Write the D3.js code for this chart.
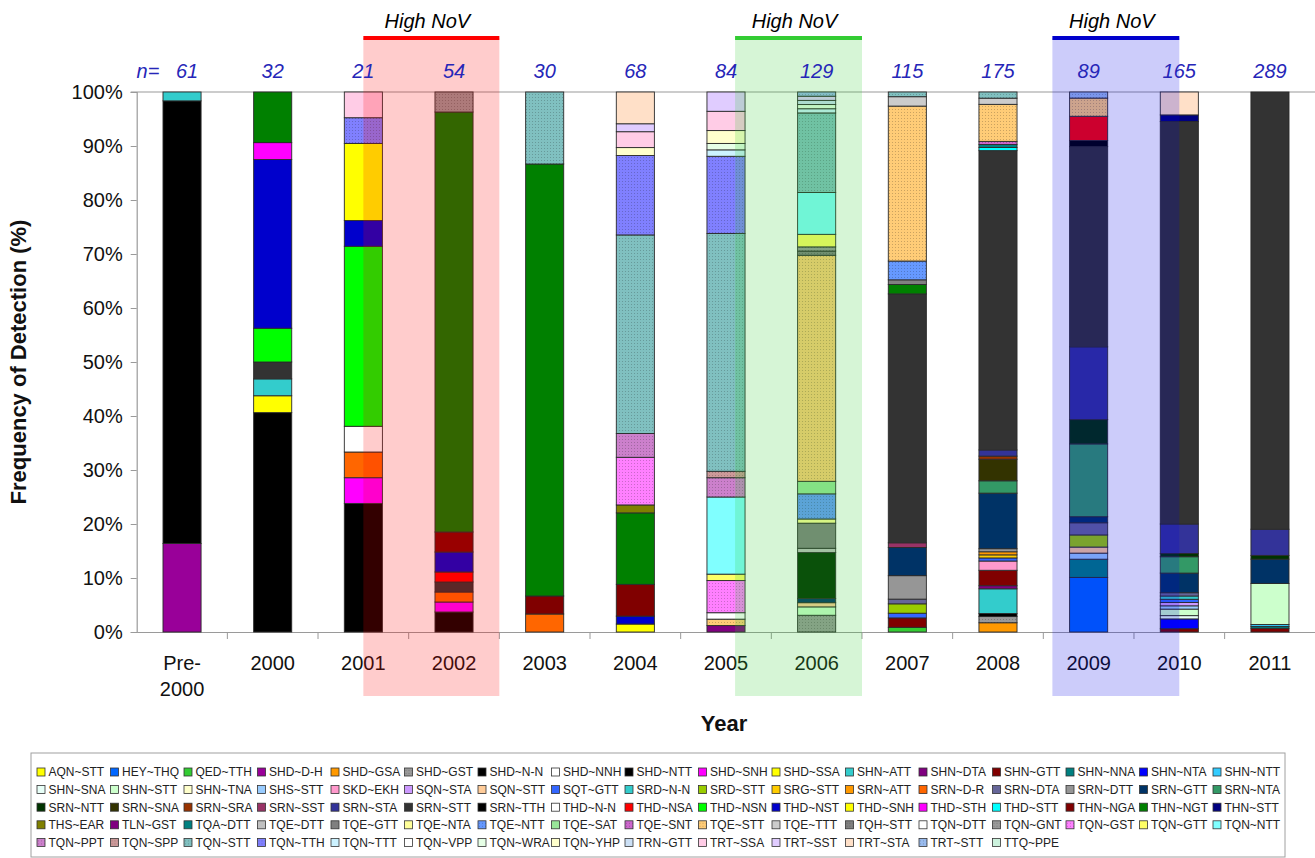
<!DOCTYPE html>
<html><head><meta charset="utf-8">
<script src="https://cdn.jsdelivr.net/npm/d3@7/dist/d3.min.js"></script>
<style>
body{margin:0;background:#fff;}
svg{display:block;font-family:"Liberation Sans",Arial,Helvetica,sans-serif;}
</style>
</head><body>
<svg id="chart" width="1315" height="858"></svg>
<script>
// ---------------- DATA ----------------
const years = ["Pre-2000","2000","2001","2002","2003","2004","2005","2006","2007","2008","2009","2010","2011"];
const sampleSizes = [61,32,21,54,30,68,84,129,115,175,89,165,289];
const yTicks = [0,10,20,30,40,50,60,70,80,90,100];

const genotypes = [
 "AQN~STT","HEY~THQ","QED~TTH","SHD~D-H","SHD~GSA","SHD~GST","SHD~N-N","SHD~NNH","SHD~NTT","SHD~SNH","SHD~SSA","SHN~ATT","SHN~DTA","SHN~GTT","SHN~NNA","SHN~NTA","SHN~NTT",
 "SHN~SNA","SHN~STT","SHN~TNA","SHS~STT","SKD~EKH","SQN~STA","SQN~STT","SQT~GTT","SRD~N-N","SRD~STT","SRG~STT","SRN~ATT","SRN~D-R","SRN~DTA","SRN~DTT","SRN~GTT","SRN~NTA",
 "SRN~NTT","SRN~SNA","SRN~SRA","SRN~SST","SRN~STA","SRN~STT","SRN~TTH","THD~N-N","THD~NSA","THD~NSN","THD~NST","THD~SNH","THD~STH","THD~STT","THN~NGA","THN~NGT","THN~STT",
 "THS~EAR","TLN~GST","TQA~DTT","TQE~DTT","TQE~GTT","TQE~NTA","TQE~NTT","TQE~SAT","TQE~SNT","TQE~STT","TQE~TTT","TQH~STT","TQN~DTT","TQN~GNT","TQN~GST","TQN~GTT","TQN~NTT",
 "TQN~PPT","TQN~SPP","TQN~STT","TQN~TTH","TQN~TTT","TQN~VPP","TQN~WRA","TQN~YHP","TRN~GTT","TRT~SSA","TRT~SST","TRT~STA","TRT~STT","TTQ~PPE"
];
const genotypeColors = [
 "#FFFF00","#0066FF","#33CC33","#990099","#FF9900","#999999","#000000","#FFFFFF","#000000","#FF00FF","#FFFF00","#33CCCC","#800080","#800000","#008080","#0000FF","#33CCFF",
 "#E8FFF8","#CCFFCC","#FFFFCC","#99CCFF","#FF99CC","#CC99FF","#FFCC99","#3366FF","#33CCCC","#99CC00","#FFCC00","#FF9900","#FF6600","#666699","#969696","#003366","#339966",
 "#003300","#333300","#993300","#993366","#333399","#333333","#000000","#FFFFFF","#FF0000","#00FF00","#0000CC","#FFFF00","#FF00FF","#00FFFF","#800000","#008000","#000080",
 "#808000","#800080","#008080","#C0C0C0","#808080","#FFFF99","#6699FF","#99E699","#CC66CC","#FFCC77","#CCCCCC","#808080","#FFFFFF","#999999","#FF80FF","#FFFF66","#80FFFF",
 "#CC80CC","#CC9999","#80C0C0","#8080FF","#CCF2FF","#FFFFFF","#E6FFE6","#FFFFCC","#CCE0F5","#FFCCE6","#E0CCFF","#FFE0C8","#99BBEE","#CCF2DD"
];
const dottedGenotypes = ["SHD~GST","TQE~NTT","TQE~SNT","TQE~STT","TQH~STT","TQN~GNT","TQN~GST","TQN~PPT","TQN~SPP","TQN~STT","TQN~TTH","TRT~STT"];

// number of strains per genotype in each year
const countsPre2000 = [["SHD~D-H",10],["SHD~N-N",50],["SHN~ATT",1]];
const counts2000 = [["SHD~N-N",13],["SHD~SSA",1],["SHN~ATT",1],["SRN~STT",1],["THD~NSN",2],["THD~NST",10],["THD~STH",1],["THN~NGT",3]];
const counts2001 = [["SHD~NTT",5],["SHD~SNH",1],["SRN~D-R",1],["THD~N-N",1],["THD~NSN",7],["THD~NST",1],["THD~SNH",3],["TQN~TTH",1],["TRT~SSA",1]];
const counts2002 = [["SHD~NTT",2],["SHD~SNH",1],["SRN~D-R",1],["SRN~STT",1],["THD~NSA",1],["THD~NST",2],["THN~NGA",2],["THN~NGT",42],["TQN~GNT",2]];
const counts2003 = [["SRN~D-R",1],["THN~NGA",1],["THN~NGT",24],["TQN~STT",4]];
const counts2004 = [["AQN~STT",1],["THD~NST",1],["THN~NGA",4],["THN~NGT",9],["THS~EAR",1],["TQN~GST",6],["TQN~PPT",3],["TQN~STT",25],["TQN~TTH",10],["TQN~YHP",1],["TRT~SSA",2],["TRT~SST",1],["TRT~STA",4]];
const counts2005 = [["TLN~GST",1],["TQE~STT",1],["TQN~DTT",1],["TQN~GST",5],["TQN~GTT",1],["TQN~NTT",12],["TQN~PPT",3],["TQN~SPP",1],["TQN~STT",37],["TQN~TTH",12],["TQN~TTT",1],["TQN~WRA",1],["TQN~YHP",2],["TRT~SSA",3],["TRT~SST",3]];
const counts2006 = [["SHD~GST",4],["SHN~STT",2],["SQN~STT",1],["SRN~GTT",1],["SRN~NTT",11],["TQE~DTT",1],["TQE~GTT",6],["TQE~NTA",1],["TQE~NTT",6],["TQE~SAT",3],["TQE~STT",54],["TQH~STT",1],["TQN~GNT",1],["TQN~GTT",3],["TQN~NTT",10],["TQN~STT",19],["TQN~TTT",1],["TQN~WRA",1],["TRN~GTT",1],["TRT~SST",1],["TRT~STT",1]];
const counts2007 = [["QED~TTH",1],["SHN~GTT",2],["SQT~GTT",1],["SRD~STT",2],["SRN~DTA",1],["SRN~DTT",5],["SRN~GTT",6],["SRN~SST",1],["SRN~STT",53],["THN~NGT",2],["TQE~GTT",1],["TQE~NTT",4],["TQE~STT",33],["TQE~TTT",2],["TQN~STT",1]];
const counts2008 = [["SHD~GSA",3],["SHD~GST",2],["SHD~NTT",1],["SHN~ATT",8],["SHN~DTA",1],["SHN~GTT",5],["SKD~EKH",3],["SQT~GTT",1],["SRG~STT",1],["SRN~ATT",1],["SRN~DTT",1],["SRN~GTT",18],["SRN~NTA",4],["SRN~SNA",7],["SRN~SRA",1],["SRN~STA",2],["SRN~STT",97],["THD~STT",1],["TQA~DTT",1],["TQE~SNT",1],["TQE~STT",12],["TQE~TTT",2],["TQN~STT",2]];
const counts2009 = [["HEY~THQ",9],["SHN~NNA",3],["SHS~STT",1],["SQN~STT",1],["SRD~STT",2],["SRN~DTA",2],["SRN~GTT",1],["SRN~NTA",12],["SRN~NTT",4],["SRN~STA",12],["SRN~STT",33],["SRN~TTH",1],["THD~NSA",4],["TQE~STT",3],["TRT~STT",1]];
const counts2010 = [["SHN~GTT",1],["SHN~NTA",3],["SHN~SNA",1],["SHN~STT",2],["SHS~STT",1],["SQN~STA",1],["SQT~GTT",1],["SRD~N-N",1],["SRN~DTA",1],["SRN~GTT",6],["SRN~NTA",5],["SRN~NTT",1],["SRN~STA",9],["SRN~STT",123],["THN~STT",2],["TRT~STA",7]];
const counts2011 = [["SHN~GTT",2],["SHN~NNA",1],["SHN~NTT",1],["SHN~STT",22],["SRN~GTT",13],["SRN~NTT",2],["SRN~STA",14],["SRN~STT",234]];
const yearCounts = [countsPre2000,counts2000,counts2001,counts2002,counts2003,counts2004,counts2005,counts2006,counts2007,counts2008,counts2009,counts2010,counts2011];

// "High NoV" periods, in category units along the x axis
const highNoVLabels = ["High NoV","High NoV","High NoV"];
const highNoVStart = [2.5, 6.6, 10.1];
const highNoVEnd = [4.0, 8.0, 11.5];

// ---------------- CHART ----------------
const svg = d3.select("#chart");
const plotL = 136.7, plotR = 1315.3, plotT = 92, plotB = 632;
const font = '"Liberation Sans",Arial,sans-serif';

const x = d3.scaleBand().domain(years).range([plotL, plotR]).paddingInner(0.58).paddingOuter(0.29);
const xi = d3.scaleLinear().domain([0, years.length]).range([plotL, plotR]);
const y = d3.scaleLinear().domain([0, 100]).range([plotB, plotT]);
const colorOf = d3.scaleOrdinal().domain(genotypes).range(genotypeColors);

// dotted patterns
const defs = svg.append("defs");
genotypes.forEach((g, i) => {
  if (!dottedGenotypes.includes(g)) return;
  const c = genotypeColors[i];
  const p = defs.append("pattern").attr("id", "pat" + i).attr("patternUnits", "userSpaceOnUse")
    .attr("width", 3).attr("height", 3);
  p.append("rect").attr("width", 3).attr("height", 3).attr("fill", c);
  p.append("rect").attr("x", 1).attr("y", 1).attr("width", 1).attr("height", 1)
    .attr("fill", d3.color(c).darker(1.3)).attr("opacity", 0.55);
});
const fillOf = g => dottedGenotypes.includes(g) ? `url(#pat${genotypes.indexOf(g)})` : colorOf(g);

// table of percentages
const table = years.map((yr, i) => {
  const row = { year: yr };
  genotypes.forEach(g => row[g] = 0);
  yearCounts[i].forEach(([g, c]) => row[g] = 100 * c / sampleSizes[i]);
  return row;
});
const series = d3.stack().keys(genotypes)(table);

// top border line
svg.append("line").attr("x1", plotL - 6).attr("x2", plotR).attr("y1", y(100)).attr("y2", y(100))
  .attr("stroke", "#9a9a9a").attr("stroke-width", 1.2);

// y axis
const yAxis = svg.append("g").attr("transform", `translate(${plotL},0)`)
  .call(d3.axisLeft(y).tickValues(yTicks).tickFormat(d => d + "%").tickSize(6).tickPadding(8));
yAxis.select(".domain").attr("stroke", "#9a9a9a").attr("stroke-width", 1.2);
yAxis.selectAll(".tick line").attr("stroke", "#9a9a9a");
yAxis.selectAll("text").attr("font-size", 20).attr("fill", "#111").attr("font-family", font);

// x axis
const xAxis = svg.append("g").attr("transform", `translate(0,${plotB})`)
  .call(d3.axisBottom(x).tickSize(0).tickPadding(24));
xAxis.select(".domain").attr("stroke", "#9a9a9a").attr("stroke-width", 1.2);
xAxis.selectAll("text").attr("font-size", 20).attr("fill", "#111").attr("font-family", font)
  .each(function(d) {
    if (d.indexOf("-") > 0) {
      const parts = d.split("-");
      const t = d3.select(this).text(null);
      t.append("tspan").attr("x", 0).text(parts[0] + "-");
      t.append("tspan").attr("x", 0).attr("dy", "1.3em").text(parts[1]);
    }
  });
svg.append("g").selectAll("line").data(d3.range(1, years.length)).join("line")
  .attr("x1", d => xi(d)).attr("x2", d => xi(d)).attr("y1", plotB).attr("y2", plotB + 7)
  .attr("stroke", "#9a9a9a");

// bars
const segs = [];
series.forEach(s => s.forEach(d => { if (d[1] - d[0] > 1e-9) segs.push({ key: s.key, year: d.data.year, y0: d[0], y1: d[1] }); }));
svg.append("g").selectAll("rect").data(segs).join("rect")
  .attr("x", d => x(d.year)).attr("width", x.bandwidth())
  .attr("y", d => y(d.y1)).attr("height", d => y(d.y0) - y(d.y1))
  .attr("fill", d => fillOf(d.key)).attr("stroke", "#2a2a2a").attr("stroke-width", 0.9);

// High NoV shaded periods
const hiFill = ["rgba(255,0,0,0.2)", "rgba(50,205,50,0.2)", "rgba(0,0,230,0.2)"];
const hiLine = ["#ff0000", "#33cc33", "#0000cc"];
const regionTop = 38, regionBottom = 696;
svg.append("g").selectAll("rect").data(highNoVStart).join("rect")
  .attr("x", d => xi(d)).attr("width", (d, i) => xi(highNoVEnd[i]) - xi(d))
  .attr("y", regionTop).attr("height", regionBottom - regionTop)
  .attr("fill", (d, i) => hiFill[i]);
svg.append("g").selectAll("line").data(highNoVStart).join("line")
  .attr("x1", d => xi(d)).attr("x2", (d, i) => xi(highNoVEnd[i]))
  .attr("y1", regionTop).attr("y2", regionTop)
  .attr("stroke", (d, i) => hiLine[i]).attr("stroke-width", 4);
svg.append("g").selectAll("text").data(highNoVLabels).join("text")
  .attr("x", (d, i) => (xi(highNoVStart[i]) + xi(highNoVEnd[i])) / 2 - 4)
  .attr("y", 28).attr("text-anchor", "middle")
  .attr("font-size", 20).attr("font-style", "italic").attr("fill", "#000").attr("font-family", font)
  .text(d => d);

// n= labels
const nColor = "#2626b8";
svg.append("text").attr("x", 148).attr("y", 78).attr("text-anchor", "middle")
  .attr("font-size", 20).attr("font-style", "italic").attr("fill", nColor).text("n=");
svg.append("g").selectAll("text").data(sampleSizes).join("text")
  .attr("x", (d, i) => x(years[i]) + x.bandwidth() / 2 + (i === 0 ? 5 : 0))
  .attr("y", 78).attr("text-anchor", "middle")
  .attr("font-size", 20).attr("font-style", "italic").attr("fill", nColor).attr("font-family", font)
  .text(d => d);

// axis titles
svg.append("text").attr("transform", `translate(26,${(plotT + plotB) / 2}) rotate(-90)`)
  .attr("text-anchor", "middle").attr("font-size", 22).attr("font-weight", "bold").attr("fill", "#111")
  .text("Frequency of Detection (%)");
svg.append("text").attr("x", (plotL + plotR) / 2 - 2).attr("y", 731).attr("text-anchor", "middle")
  .attr("font-size", 22).attr("font-weight", "bold").attr("fill", "#111").text("Year");

// legend
const legX = 37, legY = 772, colW = 73.5, rowH = 17.6, perRow = 17;
svg.append("rect").attr("x", 31).attr("y", 753).attr("width", 1254).attr("height", 104)
  .attr("fill", "#fff").attr("stroke", "#a0a0a0").attr("stroke-width", 1);
const leg = svg.append("g").selectAll("g").data(genotypes).join("g")
  .attr("transform", (d, i) => `translate(${legX + (i % perRow) * colW},${legY + Math.floor(i / perRow) * rowH})`);
leg.append("rect").attr("x", 0).attr("y", -4).attr("width", 8).attr("height", 8)
  .attr("fill", d => fillOf(d)).attr("stroke", "#333").attr("stroke-width", 0.8);
leg.append("text").attr("x", 11.5).attr("y", 4.3).attr("font-size", 12).attr("fill", "#222").text(d => d);
</script>
</body></html>
